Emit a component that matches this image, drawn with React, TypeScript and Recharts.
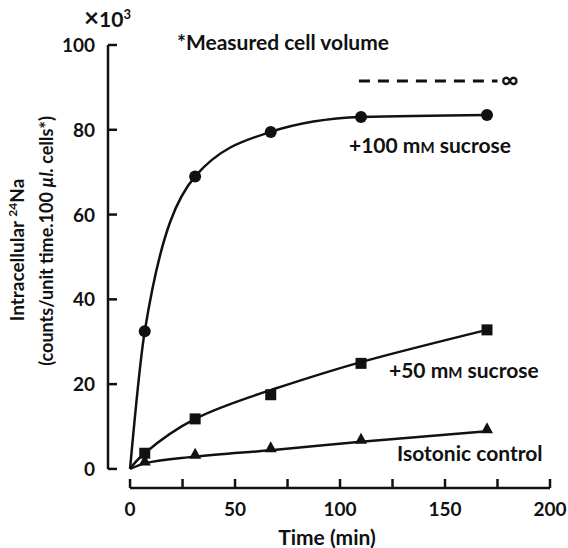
import React from 'react';
import { ComposedChart, Line, Scatter, XAxis, YAxis, ReferenceLine } from 'recharts';

// sampling times (min); 0 = origin the curves start from
const times = [0, 7, 31, 67, 110, 170];
// intracellular 24Na, x10^3 counts/unit time.100 µl cells
const sucrose100 = [0, 32.5, 69, 79.5, 83, 83.5];
// +50 mM: drawn curve and measured points (the point at 67 min sits below the curve)
const sucrose50Curve = [0, 3.7, 11.8, 18.6, 25.2, 32.8];
const sucrose50Points = [null, 3.7, 11.8, 17.5, 24.9, 32.8];
const isotonic = [0, 1.3, 2.9, 4.4, 6.4, 8.9];

const xTicks = [0, 25, 50, 75, 100, 125, 150, 175, 200];
const yTicks = [0, 20, 40, 60, 80, 100];

// asymptote for infinite time (dashed)
const infinityFrom = 109;
const infinityTo = 175;
const infinityLevel = 91.5;

const data = times.map((t, i) => ({
  time: t,
  s100: sucrose100[i],
  s50: sucrose50Curve[i],
  iso: isotonic[i],
}));

const points50 = times
  .map((t, i) => ({ time: t, p50: sucrose50Points[i] }))
  .filter((d) => d.p50 !== null);

const FONT = "Lato, 'Open Sans', sans-serif";
const INK = '#111';

const XTick = (props: any) => {
  const { x, y, payload } = props;
  const v = payload.value;
  return (
    <g>
      <line x1={x} x2={x} y1={y} y2={y - 9} stroke={INK} strokeWidth={2.5} />
      {v % 50 === 0 && (
        <text x={x} y={y + 28} textAnchor="middle" fontFamily={FONT} fontWeight="bold" fontSize={19} fill={INK}>
          {v}
        </text>
      )}
    </g>
  );
};

const YTick = (props: any) => {
  const { x, y, payload } = props;
  return (
    <g>
      <line x1={x} x2={x + 9} y1={y} y2={y} stroke={INK} strokeWidth={2.5} />
      <text x={x - 13} y={y + 7} textAnchor="end" fontFamily={FONT} fontWeight="bold" fontSize={19} fill={INK}>
        {payload.value}
      </text>
    </g>
  );
};

const makeDot = (shape: string) => (props: any) => {
  const { cx, cy, index } = props;
  const key = `${shape}-${index}`;
  if (index === 0 || cx == null) return <g key={key} />;
  if (shape === 'circle') return <circle key={key} cx={cx} cy={cy} r={6} fill={INK} />;
  // triangles sit on the line
  return <path key={key} d={`M${cx},${cy - 9} L${cx + 6},${cy + 2} L${cx - 6},${cy + 2} Z`} fill={INK} />;
};

const SquareMark = (props: any) => {
  const { cx, cy } = props;
  return <rect x={cx - 5.5} y={cy - 5.5} width={11} height={11} fill={INK} />;
};

const Small = ({ children }: any) => <tspan fontSize={15}>{children}</tspan>;

const App = () => {
  return (
    <div style={{ position: 'absolute', left: 0, top: 0, width: 568, height: 548, background: '#fff' }}>
      <ComposedChart
        width={568}
        height={548}
        data={data}
        margin={{ top: 45, right: 18, bottom: 20, left: 48 }}
      >
        <XAxis
          dataKey="time"
          type="number"
          domain={[-10.5, 200]}
          ticks={xTicks}
          allowDataOverflow
          axisLine={false}
          tickLine={false}
          tickSize={0}
          tickMargin={0}
          height={40}
          tick={<XTick />}
          interval={0}
        />
        <YAxis
          type="number"
          domain={[-4.5, 100]}
          ticks={yTicks}
          allowDataOverflow
          axisLine={false}
          tickLine={false}
          tickSize={0}
          tickMargin={0}
          width={60}
          tick={<YTick />}
          interval={0}
        />
        <ReferenceLine segment={[{ x: -10.5, y: 0 }, { x: -10.5, y: 100 }]} stroke={INK} strokeWidth={2.5} />
        <ReferenceLine segment={[{ x: 0, y: -4.5 }, { x: 200, y: -4.5 }]} stroke={INK} strokeWidth={2.5} />
        <ReferenceLine
          segment={[{ x: infinityFrom, y: infinityLevel }, { x: infinityTo, y: infinityLevel }]}
          stroke={INK}
          strokeWidth={3}
          strokeDasharray="11 8"
        />
        <Line type="monotone" dataKey="s100" stroke={INK} strokeWidth={2.5} dot={makeDot('circle')} isAnimationActive={false} />
        <Line type="natural" dataKey="s50" stroke={INK} strokeWidth={2.5} dot={false} isAnimationActive={false} />
        <Scatter data={points50} dataKey="p50" shape={<SquareMark />} isAnimationActive={false} />
        <Line type="monotone" dataKey="iso" stroke={INK} strokeWidth={2.5} dot={makeDot('triangle')} isAnimationActive={false} />
      </ComposedChart>

      <svg
        width={568}
        height={548}
        style={{ position: 'absolute', left: 0, top: 0, pointerEvents: 'none' }}
        fontFamily={FONT}
        fontWeight="bold"
        fill={INK}
      >
        <text x={84} y={27} fontSize={21}>
          <tspan fontSize={26}>×</tspan>10<tspan fontSize={13} dy={-8}>3</tspan>
        </text>
        <text x={177} y={50} fontSize={21}>*Measured cell volume</text>
        <text x={501} y={88} fontSize={24}>∞</text>
        <text x={349} y={153} fontSize={21}>
          +100 m<Small>M</Small> sucrose
        </text>
        <text x={389} y={378} fontSize={21}>
          +50 m<Small>M</Small> sucrose
        </text>
        <text x={397} y={461} fontSize={21}>Isotonic control</text>
        <text x={327} y={545} fontSize={21} textAnchor="middle">Time (min)</text>
        <text transform="translate(24,250) rotate(-90)" fontSize={19} textAnchor="middle">
          Intracellular <tspan fontSize={12} dy={-7}>24</tspan>
          <tspan dy={7}>Na</tspan>
        </text>
        <text transform="translate(53,241) rotate(-90)" fontSize={18} textAnchor="middle">
          (counts/unit time.100 <tspan fontStyle="italic">µl.</tspan> cells*)
        </text>
      </svg>
    </div>
  );
};

export default App;
